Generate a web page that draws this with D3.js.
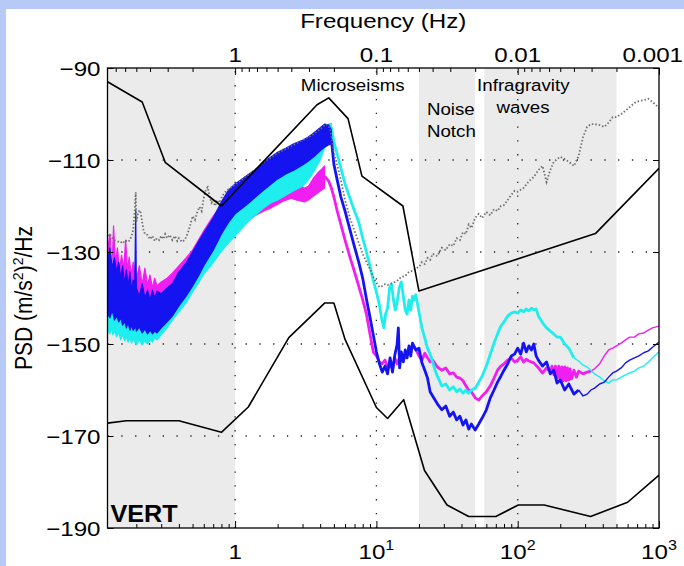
<!DOCTYPE html>
<html>
<head>
<meta charset="utf-8">
<script src="https://cdn.jsdelivr.net/npm/d3@7/dist/d3.min.js"></script>
<style>
  html, body { margin: 0; padding: 0; background: #fff; }
  svg text { font-family: "Liberation Sans", Arial, Helvetica, sans-serif; fill: #000; }
</style>
</head>
<body>
<div id="chart"></div>
<script>
// Data: period (s) and PSD (dB re (m/s^2)^2/Hz)

// axes
const periodDomain = [0.125, 1000];
const psdDomain = [-190, -90];
const yTicks = [-190, -170, -150, -130, -110, -90];
const periodMajor = [1, 10, 100, 1000];
const periodLabels = [["1", ""], ["10", "1"], ["10", "2"], ["10", "3"]];
const freqMajor = [1, 0.1, 0.01, 0.001];
const freqLabels = ["1", "0.1", "0.01", "0.001"];

// shaded period bands
const shadeBands = [[0.125, 1], [20, 50], [58, 500]];

// annotations [text, period, dB, anchor, weight]
const notes = [
  ["Microseisms", 6.8, -95.0, "middle", "normal"],
  ["Noise", 22.8, -100.2, "start", "normal"],
  ["Notch", 22.8, -105.0, "start", "normal"],
  ["Infragravity", 51.6, -95.0, "start", "normal"],
  ["waves", 109, -99.8, "middle", "normal"],
  ["VERT", 0.131, -188.7, "start", "bold"]
];

// Peterson high / low noise models
const nhnmP = [0.125, 0.22, 0.32, 0.8, 3.8, 4.6, 6.3, 7.9, 15.4, 20, 354.8, 1000];
const nhnmDb = [-93.0, -97.4, -110.5, -120.0, -98.0, -96.5, -101.0, -113.5, -120.0, -138.5, -126.0, -111.8];
const nlnmP = [0.125, 0.17, 0.4, 0.8, 1.24, 2.4, 4.3, 5.0, 6.0, 10, 12, 15.6, 21.9, 31.6, 45, 70, 101, 154, 328, 600, 1000];
const nlnmDb = [-167.2, -166.7, -166.7, -169.2, -163.7, -148.6, -141.1, -141.1, -149.0, -163.8, -166.2, -162.1, -177.5, -185.0, -187.5, -187.5, -185.0, -185.0, -187.5, -184.4, -178.5];

// blue: spread at short periods, then a single trace
const blueBandP = [0.125,0.13,0.135,0.14,0.145,0.15,0.155,0.16,0.165,0.17,0.175,0.18,0.185,0.19,0.195,0.198,0.2,0.21,0.22,0.23,0.24,0.25,0.26,0.27,0.28,0.3,0.33,0.36,0.4,0.45,0.5,0.55,0.6,0.7,0.8,0.9,1.0,1.2,1.4,1.6,1.8,2.0,2.3,2.6,3.0,3.3,3.6,4.0,4.3,4.6,4.8];
const blueBandHi = [-132.2,-129.1,-133.5,-131.3,-134.3,-132.2,-135.6,-133.0,-136.9,-133.9,-137.4,-134.3,-138.3,-136.1,-136.5,-120.9,-137.8,-139.6,-136.9,-140.0,-138.3,-140.4,-138.3,-140.0,-138.5,-139.1,-137.8,-136.9,-134.3,-132.4,-130.0,-127.8,-125.9,-122.6,-119.1,-116.5,-115.2,-113.5,-112.0,-110.4,-109.3,-108.3,-107.4,-106.5,-105.7,-105.0,-104.1,-103.0,-102.2,-102.4,-103.5];
const blueBandLo = [-143.3,-144.3,-142.6,-144.8,-143.9,-145.2,-144.3,-145.9,-145.0,-146.5,-145.4,-147.0,-145.9,-147.0,-146.5,-146.1,-147.2,-146.3,-147.6,-146.7,-147.8,-147.0,-147.8,-147.2,-147.6,-146.5,-145.2,-143.9,-141.7,-139.6,-137.4,-135.2,-133.0,-129.6,-126.1,-123.5,-121.7,-119.8,-118.0,-116.5,-115.2,-114.1,-113.0,-112.2,-111.1,-110.2,-109.3,-108.0,-107.2,-106.7,-106.5];
const blueP = [4.8,5.0,5.3,5.6,6.0,6.5,7.0,7.5,8.0,8.5,9.0,9.5,10,10.5,11,11.5,12,12.5,13,13.5,14,14.3,14.6,15,15.5,16,16.5,17,17.5,18,19,20,21,22,23,24,25,27,29,31,33,35,37,39,41,43,45,47,50,53,56,60,64,68,72,76,80,85,90,95,100,105,110,115,120,125,130,135,140,150,160,170,180,190,200,215,230,250,270,290,310,330,350,380,410,440,470,500,540,580,620,670,720,780,840,900,1000];
const blueDb = [-105.5,-110.9,-114.6,-118.0,-121.1,-125.2,-128.9,-132.2,-135.7,-140.2,-144.1,-148.0,-151.7,-154.3,-156.1,-154.8,-156.5,-153.0,-156.1,-152.4,-150.2,-146.5,-155.2,-151.7,-153.9,-151.3,-153.0,-150.4,-152.6,-149.8,-151.3,-150.9,-154.1,-155.7,-157.4,-160.4,-161.3,-163.0,-164.3,-163.5,-165.7,-164.8,-166.5,-165.7,-167.6,-166.5,-168.5,-167.4,-168.7,-167.4,-166.1,-164.3,-161.7,-160.0,-158.3,-157.0,-155.7,-154.3,-152.6,-152.2,-150.9,-152.2,-149.8,-151.7,-150.4,-151.3,-150.0,-152.6,-153.5,-154.8,-153.9,-156.5,-155.7,-158.5,-157.8,-160.0,-158.7,-160.9,-160.0,-161.3,-160.9,-160.0,-159.6,-158.7,-158.3,-157.2,-156.3,-155.9,-155.2,-154.1,-153.5,-153.0,-152.6,-151.9,-151.5,-150.7,-149.6];

// magenta
const magBandP = [0.125,0.13,0.135,0.138,0.142,0.147,0.152,0.157,0.163,0.168,0.173,0.178,0.184,0.19,0.2,0.21,0.22,0.23,0.24,0.25,0.26,0.27,0.28,0.3,0.33,0.36,0.4,0.45,0.5,0.55,0.6,0.7,0.8,0.9,1.0,1.2,1.4,1.6,1.8,2.0,2.2,2.4,2.5,2.7,2.9,3.1,3.3,3.6,3.9,4.1,4.3];
const magBandHi = [-129.6,-126.1,-132.2,-124.3,-132.2,-129.1,-134.0,-130.7,-133.5,-127.4,-133.9,-131.1,-135.0,-132.2,-136.1,-133.0,-137.0,-133.5,-137.2,-135.0,-137.8,-135.7,-137.4,-136.5,-135.7,-134.6,-133.0,-131.3,-129.6,-127.4,-125.4,-122.2,-119.8,-117.8,-117.0,-119.8,-119.1,-117.8,-116.7,-115.7,-114.8,-113.3,-114.3,-115.2,-115.9,-116.1,-115.7,-113.9,-112.6,-112.0,-111.3];
const magBandLo = [-140.4,-141.1,-141.5,-141.7,-141.9,-142.6,-142.8,-143.0,-143.0,-143.3,-143.3,-143.5,-143.7,-143.7,-143.9,-144.1,-144.3,-144.3,-144.3,-144.3,-144.3,-144.3,-143.5,-143.3,-142.2,-140.9,-139.6,-138.3,-136.1,-133.9,-132.2,-129.1,-126.5,-124.3,-123.0,-123.5,-122.0,-121.1,-120.4,-119.6,-118.9,-118.5,-118.3,-118.7,-118.9,-119.1,-118.7,-117.8,-117.0,-116.5,-116.1];
const magP = [4.3,4.6,4.8,5.0,5.3,5.6,6.0,6.5,7.0,7.5,8.0,8.5,9.0,9.5,10,10.5,11,11.5,12,12.5,13,13.5,14,15,16,17,18,19,20,21,22,23,24,25,27,29,31,33,35,37,39,41,43,45,47,50,53,56,60,64,68,72,76,80,85,90,95,100,105,110,115,120,130,140,150,160,170,175,180,185,190,195,200,205,210,215,220,225,230,235,240,250,260,270,290,310,330,350,380,410,440,470,500,540,580,620,670,720,780,840,900,1000];
const magDb = [-113.5,-114.6,-116.1,-118.0,-121.3,-124.0,-127.4,-131.1,-134.3,-137.4,-140.4,-143.5,-147.8,-151.7,-152.6,-153.9,-154.3,-153.5,-155.0,-154.1,-155.4,-153.0,-154.3,-152.2,-153.0,-151.3,-150.4,-151.1,-152.6,-153.5,-152.0,-153.0,-153.9,-153.5,-155.0,-155.7,-155.2,-156.5,-156.3,-157.2,-157.4,-158.0,-159.1,-160.0,-160.4,-161.7,-162.2,-161.3,-160.4,-159.1,-157.4,-155.7,-154.8,-154.3,-153.5,-153.0,-153.9,-153.5,-152.8,-153.9,-153.3,-153.7,-154.1,-155.2,-156.3,-155.2,-156.1,-154.8,-156.7,-154.8,-157.4,-154.8,-157.8,-155.0,-158.0,-155.0,-158.0,-155.2,-157.8,-155.4,-157.6,-155.7,-157.2,-155.9,-156.5,-156.1,-155.9,-155.4,-154.3,-152.6,-151.3,-150.9,-150.4,-149.8,-149.1,-148.5,-148.5,-147.8,-147.6,-147.0,-146.5,-146.1];

// cyan
const cyanBandP = [0.125,0.13,0.133,0.136,0.14,0.145,0.15,0.155,0.16,0.165,0.17,0.175,0.18,0.185,0.19,0.2,0.21,0.22,0.23,0.24,0.25,0.26,0.27,0.28,0.3,0.33,0.36,0.4,0.45,0.5,0.55,0.6,0.7,0.8,0.9,1.0,1.2,1.4,1.6,1.8,2.0,2.3,2.6,3.0,3.3,3.6,4.0,4.3,4.6,4.8];
const cyanBandHi = [-141.5,-140.4,-128.5,-140.4,-141.3,-141.7,-142.2,-142.6,-142.8,-143.0,-143.3,-143.5,-143.7,-143.9,-143.9,-144.3,-144.8,-144.8,-145.0,-145.2,-145.2,-145.0,-144.8,-144.6,-144.0,-142.6,-140.9,-139.3,-137.0,-134.8,-132.6,-130.7,-127.4,-124.6,-122.4,-120.9,-118.7,-116.1,-113.9,-112.6,-111.3,-110.2,-109.3,-108.3,-107.6,-106.7,-105.2,-103.5,-102.2,-102.0];
const cyanBandLo = [-147.0,-147.8,-146.5,-148.0,-147.2,-148.5,-147.4,-149.1,-147.8,-149.3,-148.5,-149.6,-148.7,-149.8,-148.9,-150.2,-149.1,-150.2,-149.3,-150.0,-149.1,-149.6,-148.7,-149.1,-148.0,-146.5,-144.8,-143.0,-141.1,-138.7,-136.7,-134.8,-132.3,-129.8,-128.0,-126.5,-123.8,-121.9,-120.4,-119.3,-118.7,-117.6,-116.7,-115.7,-114.3,-112.6,-110.0,-107.4,-105.7,-103.5];
const cyanP = [4.8,5.0,5.3,5.6,6.0,6.5,7.0,7.5,8.0,8.5,9.0,9.5,10,10.5,11,11.3,11.6,12,12.4,12.8,13.2,13.6,14,14.5,15,15.5,16,16.5,17,17.5,18,18.5,19,20,21,22,23,24,25,26,27,29,31,33,35,37,39,41,43,45,47,50,53,56,60,64,68,72,76,80,85,90,95,100,105,110,115,120,125,130,135,140,150,160,170,180,190,200,215,230,250,270,290,310,330,350,380,410,440,470,500,540,580,620,670,720,780,840,900,1000];
const cyanDb = [-102.9,-106.1,-108.9,-111.7,-115.2,-118.3,-121.1,-123.5,-127.0,-130.0,-133.0,-136.1,-138.7,-141.5,-145.2,-146.5,-143.5,-142.2,-137.8,-137.0,-140.4,-142.6,-141.0,-137.8,-136.5,-139.6,-142.6,-143.5,-140.4,-142.6,-139.6,-140.4,-139.3,-143.0,-146.5,-148.7,-150.9,-152.2,-153.9,-155.7,-157.0,-159.1,-158.7,-160.0,-159.3,-160.4,-159.8,-160.7,-160.0,-160.7,-160.0,-159.6,-158.3,-157.0,-154.8,-152.2,-149.8,-147.8,-146.1,-145.2,-143.9,-143.3,-143.0,-143.3,-142.6,-143.0,-142.4,-142.8,-142.2,-142.6,-142.4,-143.9,-145.4,-146.5,-147.2,-147.8,-148.5,-148.5,-150.0,-150.9,-153.0,-153.7,-154.6,-155.0,-155.7,-156.5,-157.2,-158.0,-158.5,-157.8,-157.8,-157.2,-156.7,-156.3,-155.9,-155.2,-154.8,-153.9,-153.0,-151.7];

// gray dotted reference
const grayP = [0.125,0.13,0.135,0.14,0.145,0.15,0.155,0.16,0.165,0.17,0.175,0.18,0.185,0.19,0.195,0.198,0.2,0.205,0.21,0.215,0.22,0.225,0.23,0.24,0.25,0.26,0.27,0.28,0.29,0.3,0.31,0.32,0.33,0.345,0.36,0.375,0.39,0.4,0.42,0.44,0.46,0.48,0.5,0.52,0.54,0.56,0.58,0.6,0.62,0.64,0.66,0.68,0.7,0.72,0.75,0.78,0.81,0.85,0.9,1.0,1.2,1.4,1.6,2.0,2.5,3.0,3.5,4.0,4.4,4.7,5.0,5.3,5.6,6.0,6.5,7.0,7.5,8.0,8.5,9.0,9.5,10,10.5,11,11.5,12,13,14,15,16,17,18,19,20,21,22,23,24,25,27,29,31,33,35,37,39,41,43,45,47,50,53,56,60,64,68,72,76,80,85,90,95,100,110,120,130,140,150,160,170,180,190,200,215,230,250,270,290,310,330,350,380,410,440,470,500,540,580,620,670,720,780,840,900,950,1000];
const grayDb = [-126.5,-126.1,-127.0,-127.4,-127.6,-127.8,-128.0,-127.6,-128.0,-127.6,-127.8,-127.4,-126.5,-125.2,-120.9,-117.0,-123.5,-121.7,-120.9,-121.5,-123.5,-125.2,-126.1,-126.3,-127.2,-126.5,-127.6,-127.0,-127.4,-126.5,-127.2,-126.1,-127.0,-126.3,-127.4,-126.5,-127.6,-127.0,-127.8,-127.4,-126.1,-124.3,-122.2,-123.0,-121.3,-120.2,-121.1,-118.3,-116.5,-115.9,-118.0,-119.3,-118.7,-120.0,-118.7,-119.3,-117.8,-117.0,-116.3,-115.4,-113.5,-112.0,-110.4,-108.5,-107.0,-105.7,-104.6,-103.3,-102.2,-103.0,-108.3,-111.3,-114.3,-118.7,-122.6,-125.4,-128.0,-130.4,-132.2,-133.7,-135.4,-136.7,-137.6,-137.4,-137.0,-137.2,-136.7,-136.3,-135.4,-135.2,-134.3,-134.1,-133.5,-133.3,-132.2,-132.6,-131.3,-131.7,-130.4,-130.9,-129.1,-129.6,-128.3,-128.7,-127.0,-127.4,-125.7,-126.1,-124.0,-124.8,-122.6,-121.7,-122.6,-121.3,-122.0,-120.7,-121.1,-120.0,-119.8,-118.7,-117.6,-116.7,-116.9,-116.1,-114.6,-113.7,-112.2,-111.3,-114.8,-112.2,-110.4,-109.8,-109.3,-109.8,-110.4,-111.3,-109.1,-105.0,-102.8,-102.2,-102.2,-102.4,-102.8,-101.9,-100.7,-100.7,-100.0,-99.3,-98.5,-97.6,-97.2,-97.0,-96.7,-97.4,-98.0,-98.7];

// Dimensions
const W = 684, H = 566;
const margin = { top: 68, right: 25, bottom: 38, left: 107.5 };
const width = W - margin.left - margin.right;
const height = H - margin.top - margin.bottom;

const svg = d3.select("#chart")
  .append("svg")
  .attr("width", W)
  .attr("height", H);

// light blue frame round a white panel
svg.append("rect").attr("width", W).attr("height", H).attr("fill", "#b7caf7");
svg.append("rect").attr("x", 6).attr("y", 9).attr("width", W - 6).attr("height", H - 9).attr("fill", "#fff");

const g = svg.append("g").attr("transform", `translate(${margin.left},${margin.top})`);

// Scales
const x = d3.scaleLog().domain(periodDomain).range([0, width]);
const xf = d3.scaleLog().domain([1 / periodDomain[0], 1 / periodDomain[1]]).range([0, width]);
const y = d3.scaleLinear().domain(psdDomain).range([height, 0]);

g.append("clipPath").attr("id", "clip")
  .append("rect").attr("width", width).attr("height", height);

// shaded bands
g.selectAll(".shade")
  .data(shadeBands)
  .enter()
  .append("rect")
  .attr("x", d => x(d[0]))
  .attr("width", d => x(d[1]) - x(d[0]))
  .attr("y", 0)
  .attr("height", height)
  .attr("fill", "#ebebeb");

// dotted grid
const grid = g.append("g").attr("stroke", "#222").attr("stroke-width", 1.3).attr("stroke-dasharray", "1.3,12.5");
grid.selectAll(".gx")
  .data(periodMajor.slice(0, 3))
  .enter()
  .append("line")
  .attr("x1", d => x(d)).attr("x2", d => x(d))
  .attr("y1", height).attr("y2", 0);
grid.selectAll(".gy")
  .data(yTicks.slice(1, 5))
  .enter()
  .append("line")
  .attr("x1", 0).attr("x2", width)
  .attr("y1", d => y(d)).attr("y2", d => y(d));

// generators
const zip = (p, v) => p.map((d, i) => ({ p: d, v: v[i] }));
const zipBand = (p, lo, hi) => p.map((d, i) => ({ p: d, lo: lo[i], hi: hi[i] }));
const line = d3.line().x(d => x(d.p)).y(d => y(d.v));
const area = d3.area().x(d => x(d.p)).y0(d => y(d.lo)).y1(d => y(d.hi));

const plot = g.append("g").attr("clip-path", "url(#clip)");

function drawSeries(bandP, bandLo, bandHi, p, v, color, tailFrom) {
  plot.append("path")
    .datum(zipBand(bandP, bandLo, bandHi))
    .attr("d", area)
    .attr("fill", color)
    .attr("stroke", color)
    .attr("stroke-width", 1.2)
    .attr("stroke-linejoin", "round");
  const pts = zip(p, v);
  plot.append("path")
    .datum(pts.filter(d => d.p <= tailFrom))
    .attr("d", line)
    .attr("fill", "none")
    .attr("stroke", color)
    .attr("stroke-width", 2.8)
    .attr("stroke-linejoin", "round");
  plot.append("path")
    .datum(pts.filter(d => d.p >= tailFrom))
    .attr("d", line)
    .attr("fill", "none")
    .attr("stroke", color)
    .attr("stroke-width", 1.4)
    .attr("stroke-linejoin", "round");
}

drawSeries(magBandP, magBandLo, magBandHi, magP, magDb, "#f01ef0", 330);
drawSeries(cyanBandP, cyanBandLo, cyanBandHi, cyanP, cyanDb, "#1eeeee", 250);
drawSeries(blueBandP, blueBandLo, blueBandHi, blueP, blueDb, "#1414f0", 270);

// gray dotted
plot.append("path")
  .datum(zip(grayP, grayDb))
  .attr("d", line)
  .attr("fill", "none")
  .attr("stroke", "#6e6e6e")
  .attr("stroke-width", 1.8)
  .attr("stroke-dasharray", "1.5,2");

// noise models
[[nhnmP, nhnmDb], [nlnmP, nlnmDb]].forEach(([p, v]) => {
  plot.append("path")
    .datum(zip(p, v))
    .attr("d", line)
    .attr("fill", "none")
    .attr("stroke", "#000")
    .attr("stroke-width", 1.6)
    .attr("stroke-linejoin", "round");
});

// Axes (MATLAB style, ticks pointing inward)
function minorTicks(decades, lo, hi, majors) {
  const out = [];
  decades.forEach(d => {
    for (let k = 2; k <= 9; k++) {
      const v = +(k * d).toPrecision(6);
      if (v > lo && v < hi && !majors.includes(v)) out.push(v);
    }
  });
  return out;
}

// the figure's lettering is a little wider than tall
const stretch = 1.15;
function addText(parent, px, py, anchor, size, str) {
  return parent.append("text")
    .attr("transform", `translate(${px},${py}) scale(${stretch},1)`)
    .attr("text-anchor", anchor)
    .style("font-size", size)
    .text(str);
}
const tickFont = "21px";

const bottomMinor = minorTicks([0.1, 1, 10, 100], periodDomain[0], periodDomain[1], periodMajor);
g.append("g").attr("transform", `translate(0,${height})`)
  .call(d3.axisBottom(x).tickValues(bottomMinor).tickSize(-4).tickFormat(""))
  .call(a => a.select(".domain").remove());
g.append("g").attr("transform", `translate(0,${height})`)
  .call(d3.axisBottom(x).tickValues(periodMajor).tickSize(-7).tickFormat(""))
  .call(a => a.select(".domain").remove());

const topMinor = minorTicks([1, 0.1, 0.01, 0.001], 1 / periodDomain[1], 1 / periodDomain[0], freqMajor);
g.append("g")
  .call(d3.axisTop(xf).tickValues(topMinor).tickSize(-4).tickFormat(""))
  .call(a => a.select(".domain").remove());
g.append("g")
  .call(d3.axisTop(xf).tickValues(freqMajor).tickSize(-7).tickFormat(""))
  .call(a => a.select(".domain").remove());

g.append("g")
  .call(d3.axisLeft(y).tickValues(yTicks).tickSize(-6).tickFormat(""))
  .call(a => a.select(".domain").remove());
g.append("g").attr("transform", `translate(${width},0)`)
  .call(d3.axisRight(y).tickValues(yTicks).tickSize(-6).tickFormat(""))
  .call(a => a.select(".domain").remove());

// tick labels
const fmt = d3.format("d");
yTicks.forEach(d => addText(g, -7, y(d) + 7.5, "end", tickFont, fmt(d)));

freqMajor.forEach((f, i) => {
  const last = i === freqMajor.length - 1;
  addText(g, last ? W - 1 - margin.left : xf(f), -6, last ? "end" : "middle", tickFont, freqLabels[i]);
});

periodMajor.forEach((p, i) => {
  const t = addText(g, x(p), height + 31, "middle", tickFont, periodLabels[i][0]);
  if (periodLabels[i][1]) {
    t.append("tspan").attr("dy", -9).style("font-size", "14px").text(periodLabels[i][1]);
  }
});

// frame
g.append("rect")
  .attr("width", width)
  .attr("height", height)
  .attr("fill", "none")
  .attr("stroke", "#000")
  .attr("stroke-width", 1.3);

// annotations
notes.forEach(n => {
  const bold = n[4] === "bold";
  g.append("text")
    .attr("transform", `translate(${x(n[1])},${y(n[2])}) scale(${bold ? 1.05 : 1.1},1)`)
    .attr("text-anchor", n[3])
    .style("font-size", bold ? "24px" : "17px")
    .style("font-weight", n[4])
    .text(n[0]);
});

// titles
addText(svg, margin.left + width / 2, 28, "middle", "21px", "Frequency (Hz)");

const yl = svg.append("text")
  .attr("transform", `translate(32,${margin.top + height / 2}) scale(1.1,1) rotate(-90)`)
  .attr("text-anchor", "middle")
  .style("font-size", "21px");
yl.append("tspan").text("PSD (m/s");
yl.append("tspan").attr("dy", -8).style("font-size", "14px").text("2");
yl.append("tspan").attr("dy", 8).text(")");
yl.append("tspan").attr("dy", -8).style("font-size", "14px").text("2");
yl.append("tspan").attr("dy", 8).text("/Hz");
</script>
</body>
</html>
